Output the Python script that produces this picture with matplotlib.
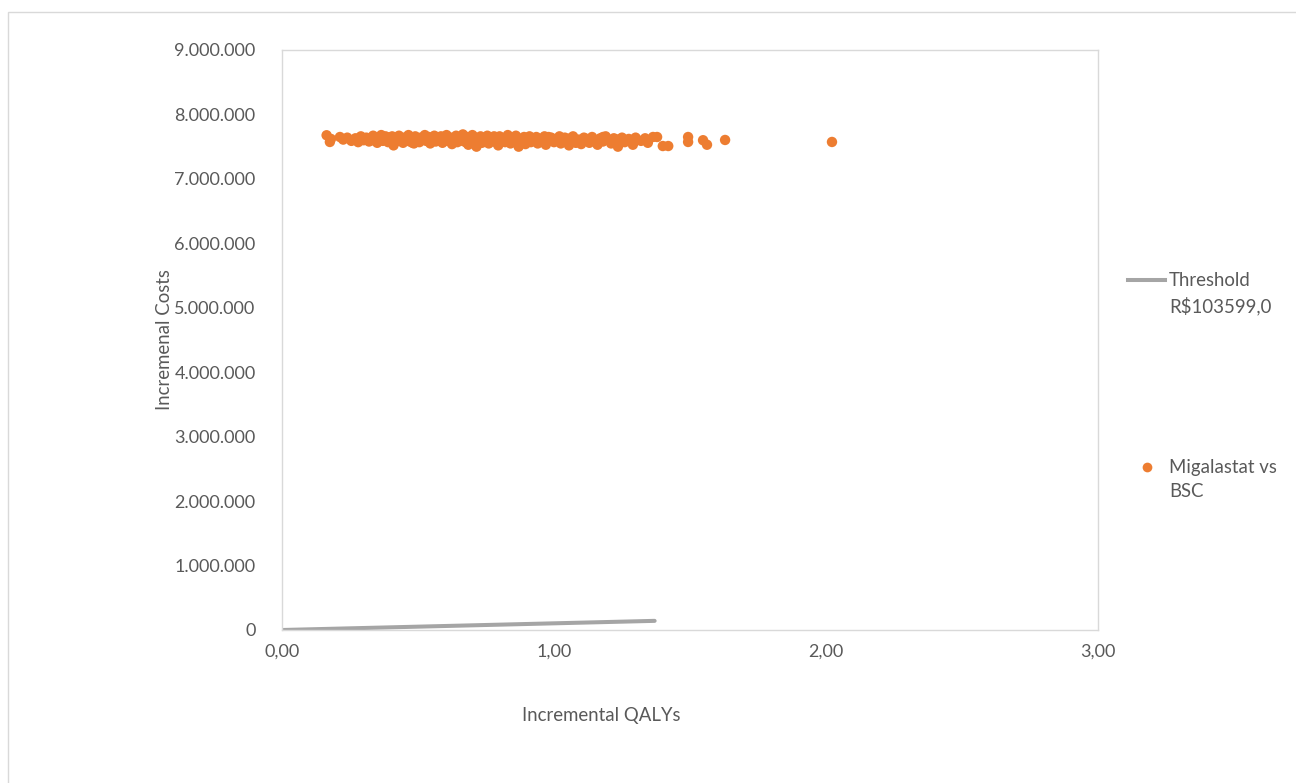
import matplotlib
matplotlib.use("Agg")
import matplotlib.pyplot as plt
from matplotlib.lines import Line2D
from matplotlib.patches import Rectangle
from matplotlib.ticker import FuncFormatter

plt.rcParams['font.family'] = ['Lato', 'DejaVu Sans']

# ---- data ----
qalys = [0.164, 0.176, 0.18, 0.213, 0.225, 0.24, 0.255, 0.27, 0.28, 0.29, 0.30,
         0.31, 0.32, 0.33, 0.335, 0.345, 0.35, 0.36, 0.365, 0.37, 0.38, 0.385, 0.39, 0.40, 0.405,
         0.41, 0.42, 0.425, 0.43, 0.44, 0.445, 0.45, 0.46, 0.465, 0.47, 0.48, 0.485, 0.49, 0.50,
         0.505, 0.51, 0.52, 0.525, 0.53, 0.54, 0.545, 0.55, 0.56, 0.565, 0.57, 0.58, 0.585, 0.59,
         0.60, 0.605, 0.61, 0.62, 0.625, 0.63, 0.64, 0.645, 0.65, 0.66, 0.665, 0.67, 0.68, 0.685,
         0.69, 0.70, 0.705, 0.71, 0.715, 0.72, 0.73, 0.735, 0.74, 0.75,
         0.755, 0.76, 0.77, 0.775, 0.78, 0.79, 0.795, 0.80, 0.81, 0.815, 0.82, 0.83, 0.835, 0.84,
         0.85, 0.855, 0.86, 0.87, 0.875, 0.88, 0.89, 0.895, 0.90, 0.91, 0.915, 0.92, 0.93, 0.935,
         0.94, 0.95, 0.96, 0.965, 0.97, 0.98, 0.99, 1.00,
         1.01, 1.02, 1.025, 1.03, 1.04, 1.05, 1.055, 1.06, 1.07, 1.08, 1.09, 1.10, 1.11, 1.115,
         1.12, 1.13, 1.14, 1.15, 1.16, 1.17, 1.18, 1.19, 1.20, 1.21, 1.22, 1.225, 1.235, 1.24, 1.25,
         1.26, 1.275, 1.29, 1.30, 1.32, 1.335, 1.345, 1.364, 1.379, 1.40, 1.42,
         1.493, 1.493, 1.548, 1.5625, 1.629, 2.022,
         0.33, 0.43, 0.53, 0.63, 0.73, 0.83, 0.93, 1.03, 1.13, 1.23,
         0.38, 0.48, 0.58, 0.68, 0.78, 0.88, 0.98, 1.08, 1.18]
costs_m = [7.677, 7.573, 7.62, 7.650, 7.61, 7.64, 7.59, 7.63, 7.57, 7.66, 7.60,
           7.64, 7.58, 7.62, 7.67, 7.60, 7.56, 7.63, 7.68, 7.59, 7.62, 7.65, 7.57, 7.61, 7.66,
           7.52, 7.63, 7.59, 7.67, 7.60, 7.56, 7.64, 7.61, 7.68, 7.58, 7.63, 7.55, 7.66, 7.60,
           7.57, 7.64, 7.62, 7.68, 7.59, 7.65, 7.55, 7.61, 7.67, 7.58, 7.63, 7.60, 7.66, 7.56,
           7.62, 7.68, 7.59, 7.64, 7.54, 7.61, 7.67, 7.57, 7.63, 7.60, 7.69, 7.58, 7.65, 7.53,
           7.62, 7.68, 7.59, 7.64, 7.50, 7.61, 7.66, 7.56, 7.63, 7.59,
           7.67, 7.55, 7.62, 7.65, 7.58, 7.61, 7.52, 7.66, 7.60, 7.63, 7.57, 7.68, 7.61, 7.55,
           7.64, 7.59, 7.67, 7.50, 7.62, 7.58, 7.65, 7.54, 7.61, 7.66, 7.57, 7.63, 7.59, 7.65,
           7.55, 7.62, 7.58, 7.66, 7.53, 7.61, 7.64, 7.57,
           7.62, 7.66, 7.55, 7.60, 7.64, 7.58, 7.52, 7.63, 7.66, 7.57, 7.61, 7.54, 7.64, 7.59,
           7.62, 7.56, 7.65, 7.60, 7.53, 7.63, 7.58, 7.66, 7.61, 7.55, 7.63, 7.58, 7.50, 7.61, 7.64,
           7.57, 7.62, 7.53, 7.64, 7.59, 7.63, 7.56, 7.650, 7.650, 7.51, 7.51,
           7.650, 7.573, 7.60, 7.53, 7.604, 7.573,
           7.60, 7.61, 7.60, 7.61, 7.60, 7.61, 7.60, 7.61, 7.60, 7.61,
           7.66, 7.56, 7.65, 7.56, 7.66, 7.56, 7.65, 7.56, 7.65]
costs = [c * 1e6 for c in costs_m]

threshold_qalys = [0.0, 1.37]
threshold_costs = [0.0, 141931.0]

x_ticks = [0, 1, 2, 3]
y_ticks = [0, 1e6, 2e6, 3e6, 4e6, 5e6, 6e6, 7e6, 8e6, 9e6]

series_labels = ["Threshold\nR\\$103599,0", "Migalastat vs\nBSC"]

ORANGE = "#ED7D31"
GRAY = "#A5A5A5"
TXT = "#595959"
BORDER = "#D9D9D9"
FS = 13.4
TFS = 13.0

W, H = 1296, 783
fig = plt.figure(figsize=(W / 100, H / 100), dpi=100)

# outer chart border (only left and top edges fall inside the image)
fig.patches.append(Rectangle((8 / W, -0.2), 1.2, 1.2 - 12 / H, transform=fig.transFigure,
                             fill=False, edgecolor=BORDER, linewidth=1.0))

ax = fig.add_axes([282 / W, 1 - 630 / H, (1098 - 282) / W, (630 - 50) / H])

ax.plot(threshold_qalys, threshold_costs, color=GRAY, linewidth=2.9,
        solid_capstyle='round', zorder=2)
ax.scatter(qalys, costs, s=56, color=ORANGE, edgecolors='none', zorder=3)

ax.set_xlim(0, 3)
ax.set_ylim(0, 9e6)
ax.set_xticks(x_ticks)
ax.set_yticks(y_ticks)
ax.xaxis.set_major_formatter(FuncFormatter(lambda v, p: f"{v:.2f}".replace('.', ',')))
ax.yaxis.set_major_formatter(FuncFormatter(lambda v, p: f"{int(round(v)):,}".replace(',', '.')))
ax.tick_params(axis='both', length=0, labelsize=TFS, labelcolor=TXT)
ax.tick_params(axis='y', pad=19)
ax.tick_params(axis='x', pad=10)
for sp in ax.spines.values():
    sp.set_color(BORDER)
    sp.set_linewidth(1.0)

# axis titles
fig.text(601 / W, 1 - 716 / H, "Incremental QALYs", ha='center', va='center',
         fontsize=FS, color=TXT)
fig.text(164 / W, 1 - 340 / H, "Incremenal Costs", ha='center', va='center',
         rotation=90, fontsize=FS, color=TXT)

# legend (drawn manually to match layout)
fig.lines.append(Line2D([1128 / W, 1165 / W], [1 - 280 / H, 1 - 280 / H],
                        transform=fig.transFigure, color=GRAY, linewidth=2.9))
fig.lines.append(Line2D([1147 / W], [1 - 467 / H], transform=fig.transFigure,
                        marker='o', markersize=7, color=ORANGE, markeredgewidth=0,
                        linestyle='none'))
fig.text(1169 / W, 1 - 272 / H, series_labels[0], ha='left', va='top',
         fontsize=FS, color=TXT, linespacing=1.5)
fig.text(1169 / W, 1 - 459 / H, series_labels[1], ha='left', va='top',
         fontsize=FS, color=TXT, linespacing=1.5)

fig.savefig("out.png", dpi=100)
